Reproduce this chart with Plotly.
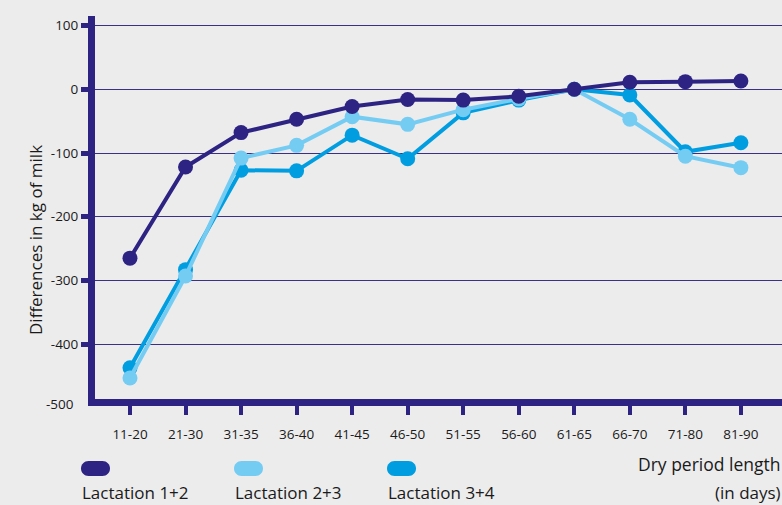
import plotly.graph_objects as go

categories = ["11-20", "21-30", "31-35", "36-40", "41-45", "46-50",
              "51-55", "56-60", "61-65", "66-70", "71-80", "81-90"]
lact_12 = [-265, -122, -68, -47, -27, -16, -17, -11, 0, 11, 12, 13]
lact_23 = [-453, -293, -108, -88, -43, -55, -32, -15, 0, -47, -105, -123]
lact_34 = [-437, -283, -127, -128, -72, -109, -37, -17, 0, -9, -98, -84]
series_names = ["Lactation 1+2", "Lactation 2+3", "Lactation 3+4"]
series_colors = ["#2d2382", "#75ccf3", "#009ee0"]
y_ticks = [100, 0, -100, -200, -300, -400]
extra_tick = -500

W, H = 782, 505
ML, MR, MT, MB = 95, 0, 16, 106
PW, PH = W - ML - MR, H - MT - MB
BG = "#ececec"
TXT = "#1a1a1a"
FONT = "Open Sans"

def px(x):
    return (x - ML) / PW

def py(y):
    return (H - MB - y) / PH

fig = go.Figure()
data = [lact_12, lact_23, lact_34]
order = [2, 1, 0]
for i in order:
    fig.add_trace(go.Scatter(
        x=categories, y=data[i], name=series_names[i], mode="lines+markers",
        line=dict(color=series_colors[i], width=4),
        marker=dict(color=series_colors[i], size=15),
        cliponaxis=False, showlegend=False))

fig.update_layout(
    width=W, height=H, margin=dict(l=ML, r=MR, t=MT, b=MB),
    paper_bgcolor=BG, plot_bgcolor=BG,
    font=dict(family=FONT, color=TXT, size=13),
)
fig.update_xaxes(
    type="category", range=[-0.63, 11.74], showgrid=False, zeroline=False,
    showline=True, linecolor="#2d2382", linewidth=7,
    ticks="outside", ticklen=9, tickwidth=4, tickcolor="#2d2382",
    tickfont=dict(size=13.5, color=TXT), ticklabelstandoff=8,
)
fig.update_yaxes(
    range=[-486, 115], tickvals=y_ticks, ticktext=[str(v) for v in y_ticks],
    showgrid=True, gridcolor="#3a3089", gridwidth=1.2, zeroline=False,
    showline=True, linecolor="#2d2382", linewidth=7,
    ticks="outside", ticklen=7, tickwidth=5, tickcolor="#2d2382",
    tickfont=dict(size=13.5, color=TXT),
)

def label(x, y, text, size, xanchor="center", angle=0):
    fig.add_annotation(x=px(x), y=py(y), xref="paper", yref="paper",
                       xanchor=xanchor, yanchor="middle", text=text,
                       textangle=angle, showarrow=False,
                       font=dict(size=size, color=TXT))

# -500 label at the foot of the axis
label(76, 404, str(extra_tick), 13.5, xanchor="right")

# y-axis title
label(35, 240, "Differences in kg of milk", 17, angle=-90)

# x-axis title
label(783, 464, "Dry period length", 17.5, xanchor="right")
label(783, 492, "(in days)", 17, xanchor="right")

# custom legend: pills + labels
pill_x = [81, 234, 387]
pill_w, pill_h = 29, 15
pill_top = 461
for i in range(3):
    x0, x1 = pill_x[i], pill_x[i] + pill_w
    y0, y1 = pill_top, pill_top + pill_h
    r = pill_h / 2
    k = 0.5523 * r
    pts = [
        ("M", [(x0 + r, y0)]),
        ("L", [(x1 - r, y0)]),
        ("C", [(x1 - r + k, y0), (x1, y0 + r - k), (x1, y0 + r)]),
        ("C", [(x1, y0 + r + k), (x1 - r + k, y1), (x1 - r, y1)]),
        ("L", [(x0 + r, y1)]),
        ("C", [(x0 + r - k, y1), (x0, y1 - r + k), (x0, y1 - r)]),
        ("C", [(x0, y0 + r - k), (x0 + r - k, y0), (x0 + r, y0)]),
    ]
    path = ""
    for cmd, ps in pts:
        path += cmd + " " + " ".join(f"{px(a):.5f},{py(b):.5f}" for a, b in ps) + " "
    path += "Z"
    fig.add_shape(type="path", path=path, xref="paper", yref="paper",
                  fillcolor=series_colors[i], line=dict(width=0))
    label(pill_x[i] - 1, 492, series_names[i], 17, xanchor="left")

fig.write_html("out.html")
